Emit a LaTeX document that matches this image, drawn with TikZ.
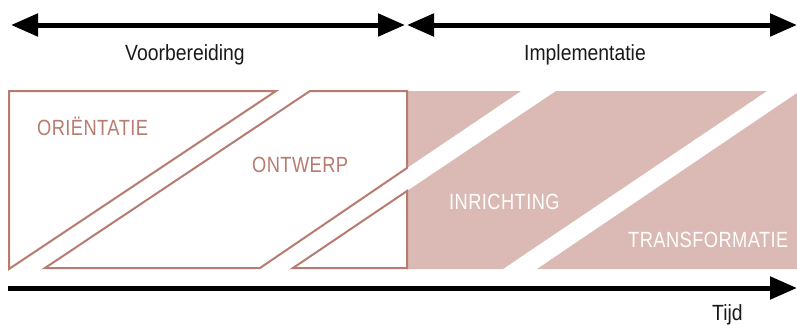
\documentclass[tikz,border=0pt]{standalone}
\usepackage{fontspec}
\setmainfont[FakeStretch=0.88]{Liberation Sans}
\newfontfamily\capsfont[FakeStretch=0.83,LetterSpace=2]{Liberation Sans}
\usetikzlibrary{arrows.meta}
\definecolor{rose}{HTML}{B87B70}
\definecolor{rosefill}{HTML}{DBBAB5}
\begin{document}
\begin{tikzpicture}[x=1pt,y=-1pt,
  bigarrow/.style={line width=5pt, -{Triangle[length=27pt,width=22pt]}},
  bothwayarrow/.style={line width=5pt, {Triangle[length=27pt,width=22pt]}-{Triangle[length=27pt,width=22pt]}},
  outlined/.style={draw=rose, line width=2pt, line join=miter, fill=white},
  filled/.style={fill=rosefill, draw=none},
  headtext/.style={font=\fontsize{22}{22}\selectfont, text=black!90, inner sep=0pt, anchor=base west},
  phaseout/.style={font=\capsfont\fontsize{22}{22}\selectfont, text=rose, inner sep=0pt, anchor=base west},
  phasein/.style={font=\capsfont\fontsize{22}{22}\selectfont, text=white, inner sep=0pt, anchor=base west}]
\useasboundingbox (0,0) rectangle (797,324);

% time arrows
\coordinate (v1) at (11,25);
\coordinate (v2) at (405,25);
\coordinate (i1) at (407,25);
\coordinate (i2) at (797,25);
\coordinate (t1) at (8,288);
\coordinate (t2) at (797,288);
\draw[bothwayarrow] (v1) -- (v2);
\draw[bothwayarrow] (i1) -- (i2);
\draw[bigarrow] (t1) -- (t2);

% filled parts (implementation)
\fill[filled] (407,91) -- (521,91) -- (407,168) -- cycle;
\fill[filled] (407,191) -- (556,91) -- (767,91) -- (503,269) -- (407,269) -- cycle;
\fill[filled] (537,269) -- (797,93) -- (797,269) -- cycle;

% outlined parts (preparation)
\draw[outlined] (9,91) -- (276,91) -- (9,269) -- cycle;
\draw[outlined] (45,268) -- (310,91) -- (407,91) -- (407,168) -- (260,268) -- cycle;
\draw[outlined] (293,268) -- (407,191) -- (407,268) -- cycle;

% labels
\node[headtext] (lv) at (125,60) {Voorbereiding};
\node[headtext] (li) at (524,60) {Implementatie};
\node[headtext] (lt) at (712,320) {Tijd};
\node[phaseout] (lo) at (37,135) {ORIËNTATIE};
\node[phaseout] (lw) at (252,172) {ONTWERP};
\node[phasein] (lr) at (449,209) {INRICHTING};
\node[phasein] (lf) at (628,247) {TRANSFORMATIE};
\end{tikzpicture}
\end{document}
